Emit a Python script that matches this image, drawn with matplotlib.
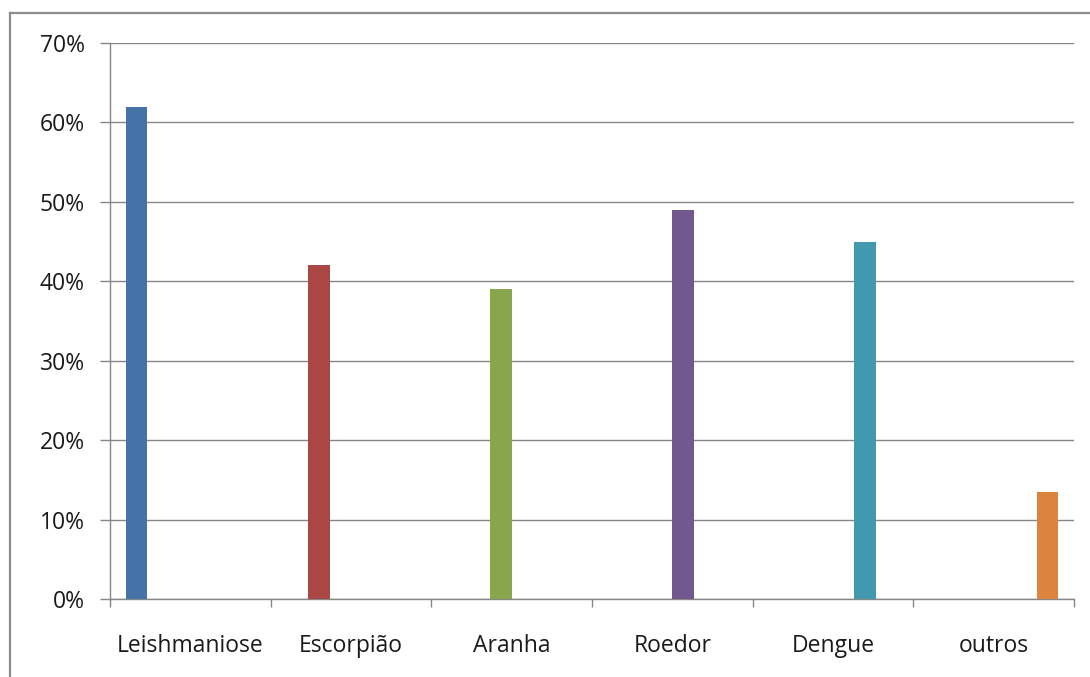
import matplotlib
matplotlib.use("Agg")
import matplotlib.pyplot as plt
from matplotlib.lines import Line2D
import numpy as np

categories = ["Leishmaniose", "Escorpião", "Aranha", "Roedor", "Dengue", "outros"]
values = [62, 42, 39, 49, 45, 13.5]
colors = ["#4572A7", "#AA4643", "#89A54E", "#71588F", "#4198AF", "#DB843D"]
yticks = [0, 10, 20, 30, 40, 50, 60, 70]

plt.rcParams['font.family'] = ['Open Sans', 'DejaVu Sans']

W, H = 1090, 677
fig = plt.figure(figsize=(W / 100, H / 100), dpi=100)
ax = fig.add_axes([110 / W, (H - 599) / H, (1074 - 110) / W, (599 - 43) / H])

n = len(categories)
w = 1 / 7.5
for i, (v, c) in enumerate(zip(values, colors)):
    x = i + (i - (n - 1) / 2) * w
    ax.bar(x, v, width=w, color=c, zorder=3)

fs = 16.5
tc = "#1a1a1a"
ax.set_xlim(-0.5, n - 0.5)
ax.set_ylim(0, 70)
ax.set_yticks(yticks)
ax.set_yticklabels([f"{t}%" for t in yticks], fontsize=fs, color=tc)
ax.set_xticks(range(n))
ax.set_xticklabels(categories, fontsize=fs, color=tc)
ax.set_xticks(np.arange(-0.5, n, 1), minor=True)
ax.tick_params(axis='x', which='major', length=0, pad=25)
ax.tick_params(axis='x', which='minor', length=6, width=1, color="#868686", direction='out')
ax.tick_params(axis='y', which='major', length=7, width=1, color="#868686", direction='out', pad=11)

ax.grid(axis='y', color="#868686", linewidth=1, zorder=0)
for s in ['top', 'right']:
    ax.spines[s].set_visible(False)
for s in ['left', 'bottom']:
    ax.spines[s].set_color("#868686")
    ax.spines[s].set_linewidth(1)

bc = "#8c8c8c"
fig.add_artist(Line2D([9.5 / W, 9.5 / W], [0, (H - 12.5) / H], color=bc, linewidth=1.6, transform=fig.transFigure))
fig.add_artist(Line2D([9.5 / W, 1], [(H - 12.5) / H, (H - 12.5) / H], color=bc, linewidth=1.6, transform=fig.transFigure))

fig.savefig("out.png", dpi=100)
